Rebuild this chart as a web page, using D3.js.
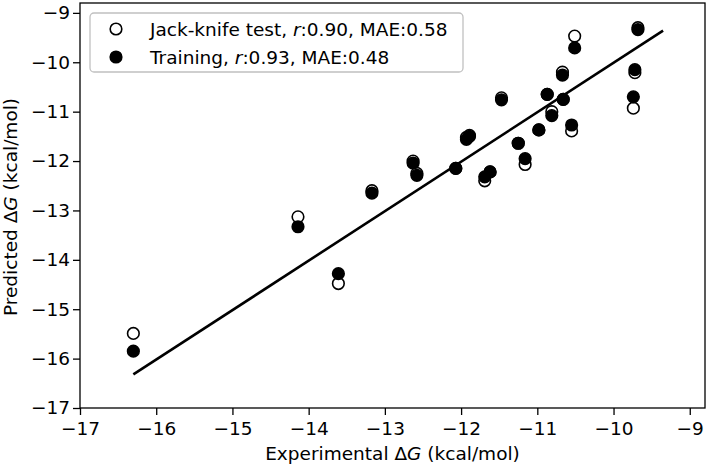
<!DOCTYPE html>
<html>
<head>
<meta charset="utf-8">
<script src="https://cdn.jsdelivr.net/npm/d3@7"></script>
<style>
  body { margin: 0; background: #fff; }
  svg { display: block; font-family: "DejaVu Sans", sans-serif; }
</style>
</head>
<body>
<svg id="chart" width="709" height="468"></svg>
<script>
// experimental dG (x) and predicted dG for each compound
const expDG = [-16.30, -14.14, -13.61, -13.17, -12.63, -12.58, -12.07, -11.93, -11.89, -11.47,
               -11.69, -11.62, -11.25, -11.16, -10.98, -10.87, -10.81, -10.67, -10.66, -10.55,
               -10.51, -9.74, -9.72, -9.68];
const jackDG = [-15.49, -13.13, -14.48, -12.60, -12.00, -12.25, -12.15, -11.52, -11.48, -10.72,
                -12.40, -12.22, -11.64, -12.07, -11.37, -10.65, -11.00, -10.20, -10.75, -11.39,
                -9.47, -10.93, -10.21, -9.30];
const trainDG = [-15.85, -13.33, -14.28, -12.65, -12.04, -12.29, -12.15, -11.56, -11.50, -10.76,
                 -12.32, -12.22, -11.64, -11.95, -11.37, -10.65, -11.08, -10.26, -10.75, -11.27,
                 -9.71, -10.70, -10.15, -9.34];
const fitX = [-16.30, -9.35];
const fitY = [-16.32, -9.36];
const ticks = [-17, -16, -15, -14, -13, -12, -11, -10, -9];

const svg = d3.select("#chart");
const x = d3.scaleLinear().domain([-17, -8.8]).range([80, 705]);
const y = d3.scaleLinear().domain([-17, -8.8]).range([408, 3]);
const fmt = d => String(d).replace("-", "\u2212");
const fs = "18.5px";

const xAxis = svg.append("g")
    .attr("transform", "translate(0,408)")
    .call(d3.axisBottom(x).tickValues(ticks).tickFormat(fmt).tickSize(7).tickPadding(7));
const yAxis = svg.append("g")
    .attr("transform", "translate(80,0)")
    .call(d3.axisLeft(y).tickValues(ticks).tickFormat(fmt).tickSize(7).tickPadding(3));

[xAxis, yAxis].forEach(a => {
    a.select(".domain").remove();
    a.selectAll("line").attr("stroke", "#000").attr("stroke-width", 1.3);
    a.selectAll("text").attr("fill", "#000").style("font-size", fs)
        .style("font-family", "DejaVu Sans");
});

// frame
svg.append("rect")
    .attr("x", x(-17)).attr("y", y(-8.8))
    .attr("width", x(-8.8) - x(-17)).attr("height", y(-17) - y(-8.8))
    .attr("fill", "none").attr("stroke", "#000").attr("stroke-width", 1.3);

// points: jack-knife (open) under training (filled)
svg.append("g").selectAll("circle")
    .data(expDG.map((d, i) => [d, jackDG[i]]))
    .join("circle")
    .attr("cx", d => x(d[0])).attr("cy", d => y(d[1])).attr("r", 5.8)
    .attr("fill", "#fff").attr("stroke", "#000").attr("stroke-width", 1.6);

svg.append("g").selectAll("circle")
    .data(expDG.map((d, i) => [d, trainDG[i]]))
    .join("circle")
    .attr("cx", d => x(d[0])).attr("cy", d => y(d[1])).attr("r", 5.8)
    .attr("fill", "#000").attr("stroke", "#000").attr("stroke-width", 1.6);

// fit line
svg.append("path")
    .datum(fitX.map((d, i) => [d, fitY[i]]))
    .attr("fill", "none").attr("stroke", "#000").attr("stroke-width", 2.6)
    .attr("d", d3.line().x(d => x(d[0])).y(d => y(d[1])));

// axis labels
const xl = svg.append("text")
    .attr("x", (x(-17) + x(-8.8)) / 2).attr("y", 460)
    .attr("text-anchor", "middle").style("font-size", fs);
xl.append("tspan").text("Experimental \u0394");
xl.append("tspan").style("font-style", "italic").text("G");
xl.append("tspan").text(" (kcal/mol)");

const yl = svg.append("text")
    .attr("transform", "translate(16.5,207) rotate(-90)")
    .attr("text-anchor", "middle").style("font-size", fs);
yl.append("tspan").text("Predicted \u0394");
yl.append("tspan").style("font-style", "italic").text("G");
yl.append("tspan").text(" (kcal/mol)");

// legend
const leg = svg.append("g");
leg.append("rect")
    .attr("x", 90).attr("y", 13).attr("width", 373).attr("height", 59).attr("rx", 4)
    .attr("fill", "#fff").attr("fill-opacity", 0.8)
    .attr("stroke", "#c0c0c0").attr("stroke-width", 1.3);

const legItems = [
    {label: "Jack-knife test, ", r: "0.90", mae: "0.58", fill: "#fff"},
    {label: "Training, ", r: "0.93", mae: "0.48", fill: "#000"}
];
legItems.forEach((d, i) => {
    const cy = 29 + i * 28;
    leg.append("circle").attr("cx", 116).attr("cy", cy).attr("r", 5.8)
        .attr("fill", d.fill).attr("stroke", "#000").attr("stroke-width", 1.6);
    const t = leg.append("text").attr("x", 150).attr("y", cy + 6.5).style("font-size", fs);
    t.append("tspan").text(d.label);
    t.append("tspan").style("font-style", "italic").text("r");
    t.append("tspan").text(":" + d.r + ", MAE:" + d.mae);
});
</script>
</body>
</html>
